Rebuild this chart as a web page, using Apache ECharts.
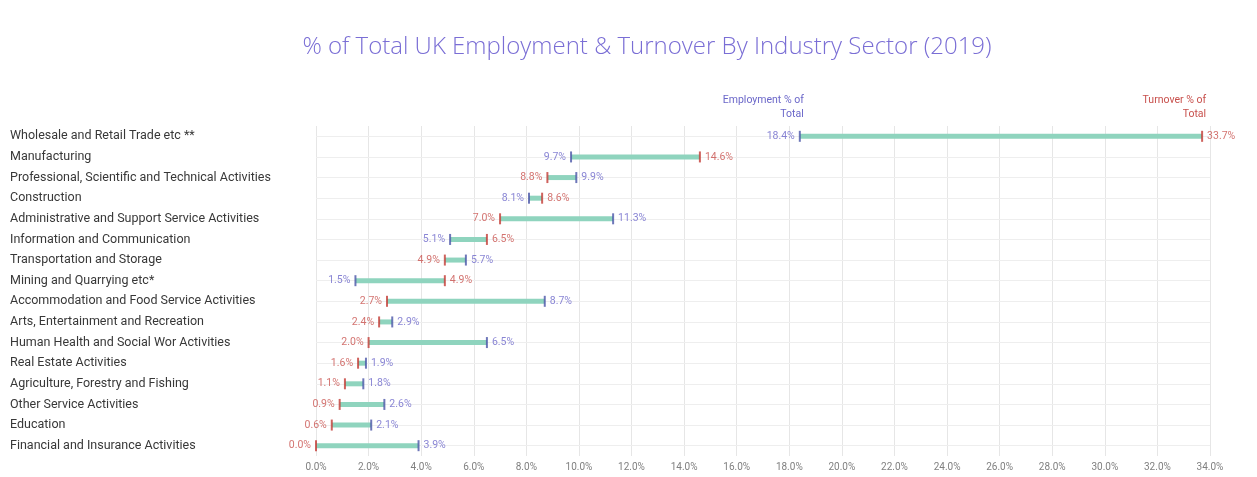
<!DOCTYPE html>
<html>
<head>
<meta charset="utf-8">
<script src="https://cdn.jsdelivr.net/npm/echarts@6/dist/echarts.min.js"></script>
<style>
  html, body { margin: 0; padding: 0; background: #ffffff; }
  #chart { width: 1257px; height: 477px; }
</style>
</head>
<body>
<div id="chart"></div>
<script>
// Industry sectors, listed top to bottom
const categories = [
  'Wholesale and Retail Trade etc **',
  'Manufacturing',
  'Professional, Scientific and Technical Activities',
  'Construction',
  'Administrative and Support Service Activities',
  'Information and Communication',
  'Transportation and Storage',
  'Mining and Quarrying etc*',
  'Accommodation and Food Service Activities',
  'Arts, Entertainment and Recreation',
  'Human Health and Social Wor Activities',
  'Real Estate Activities',
  'Agriculture, Forestry and Fishing',
  'Other Service Activities',
  'Education',
  'Financial and Insurance Activities'
];

// Share of total UK employment (%)
const employment = [18.4, 9.7, 9.9, 8.1, 11.3, 5.1, 5.7, 1.5, 8.7, 2.9, 6.5, 1.9, 1.8, 2.6, 2.1, 3.9];

// Share of total UK turnover (%)
const turnover = [33.7, 14.6, 8.8, 8.6, 7.0, 6.5, 4.9, 4.9, 2.7, 2.4, 2.0, 1.6, 1.1, 0.9, 0.6, 0.0];

// X axis ticks
const xMin = 0, xMax = 34, xStep = 2;

const EMP_TEXT = '#6b67c9';
const TURN_TEXT = '#c8504c';
const EMP_MARK = '#4a55a8';
const TURN_MARK = '#c33b35';
const BAR = '#8fd4be';
const FONT = 'Roboto';

const fmt = v => v.toFixed(1) + '%';

const low = employment.map((e, i) => Math.min(e, turnover[i]));
const span = employment.map((e, i) => Math.abs(e - turnover[i]));

function pointData(values, other) {
  return values.map((v, i) => ({
    value: [v, categories[i]],
    label: { position: v <= other[i] ? 'left' : 'right' }
  }));
}

const chart = echarts.init(document.getElementById('chart'));
chart.setOption({
  animation: false,
  backgroundColor: '#ffffff',
  title: {
    text: '% of Total UK Employment & Turnover By Industry Sector (2019)',
    left: 642,
    textAlign: 'center',
    top: 30,
    textStyle: { fontFamily: 'Open Sans', fontWeight: 300, fontSize: 24, color: '#7a6ed5' }
  },
  grid: { left: 316, right: 47, top: 126, bottom: 21, containLabel: false },
  xAxis: {
    type: 'value',
    min: xMin, max: xMax, interval: xStep,
    axisLine: { show: false },
    axisTick: { show: false },
    axisLabel: { formatter: v => v.toFixed(1) + '%', color: '#808080', fontFamily: FONT, fontSize: 10, margin: 6 },
    splitLine: { lineStyle: { color: '#e6e6e6', width: 1 } }
  },
  yAxis: {
    type: 'category',
    data: categories,
    inverse: true,
    axisLine: { show: false },
    axisTick: { show: false },
    splitLine: { show: false },
    axisLabel: { align: 'left', margin: 306, color: '#383838', fontFamily: FONT, fontSize: 12.5 }
  },
  series: [
    {
      type: 'bar',
      stack: 'range',
      data: low,
      barWidth: 5,
      z: 1,
      itemStyle: { color: 'transparent' },
      silent: true,
      markLine: {
        silent: true,
        symbol: 'none',
        z: 1,
        label: { show: false },
        lineStyle: { color: '#eeeeee', width: 1, type: 'solid' },
        data: categories.map(c => ({ yAxis: c }))
      }
    },
    {
      type: 'bar',
      stack: 'range',
      data: span,
      barWidth: 5,
      z: 3,
      itemStyle: { color: BAR }
    },
    {
      name: 'Employment % of Total',
      type: 'scatter',
      symbol: 'rect',
      symbolSize: [2, 11],
      z: 4,
      itemStyle: { color: EMP_MARK },
      label: { show: true, formatter: p => fmt(p.value[0]), color: EMP_TEXT, fontFamily: FONT, fontSize: 10.5, distance: 4 },
      data: pointData(employment, turnover),
      markPoint: {
        symbol: 'rect', symbolSize: 1,
        itemStyle: { color: 'transparent' },
        label: { show: true, position: 'top', align: 'right', distance: 14, offset: [4, 0], lineHeight: 14,
                 color: EMP_TEXT, fontFamily: FONT, fontSize: 10.5, formatter: 'Employment % of\nTotal' },
        data: [{ coord: [employment[0], categories[0]] }]
      }
    },
    {
      name: 'Turnover % of Total',
      type: 'scatter',
      symbol: 'rect',
      symbolSize: [2, 11],
      z: 4,
      itemStyle: { color: TURN_MARK },
      label: { show: true, formatter: p => fmt(p.value[0]), color: TURN_TEXT, fontFamily: FONT, fontSize: 10.5, distance: 4 },
      data: pointData(turnover, employment),
      markPoint: {
        symbol: 'rect', symbolSize: 1,
        itemStyle: { color: 'transparent' },
        label: { show: true, position: 'top', align: 'right', distance: 14, offset: [4, 0], lineHeight: 14,
                 color: TURN_TEXT, fontFamily: FONT, fontSize: 10.5, formatter: 'Turnover % of\nTotal' },
        data: [{ coord: [turnover[0], categories[0]] }]
      }
    }
  ]
});
</script>
</body>
</html>
